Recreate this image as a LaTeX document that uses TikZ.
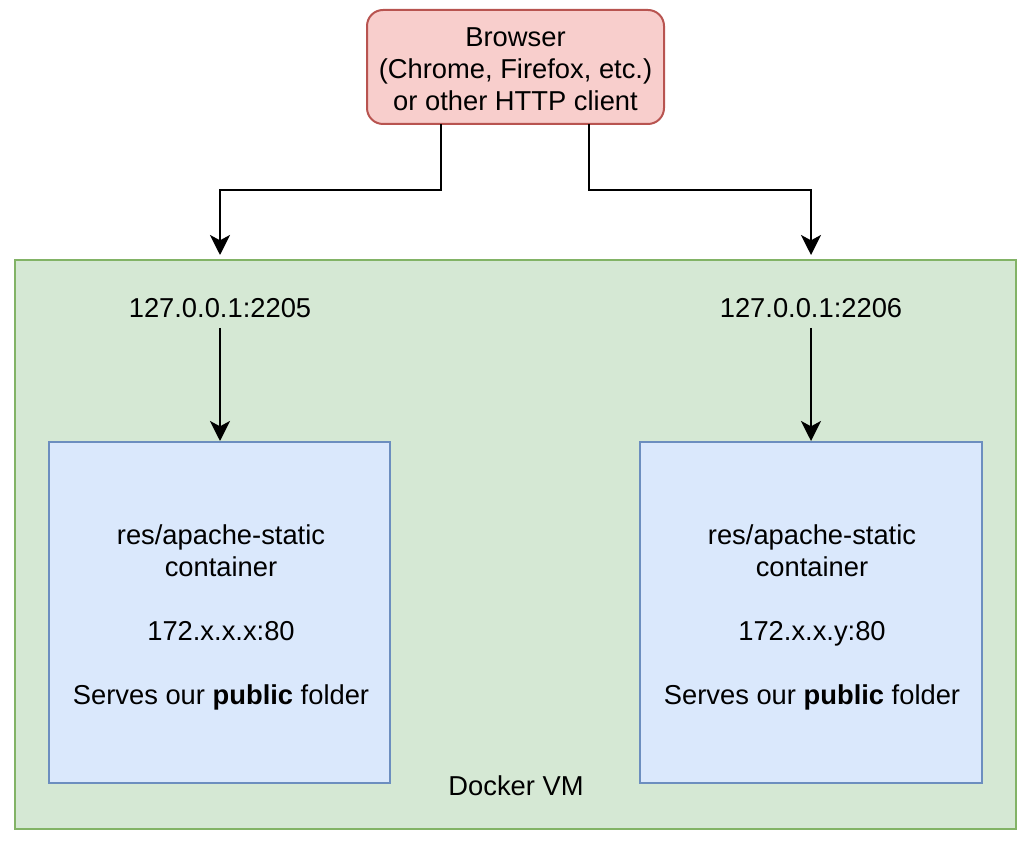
\documentclass[tikz,border=0pt]{standalone}
\usepackage{fontspec}
\setmainfont{Liberation Sans}
\usetikzlibrary{arrows.meta}
\definecolor{redfill}{HTML}{F8CECC}
\definecolor{redline}{HTML}{B85450}
\definecolor{greenfill}{HTML}{D5E8D4}
\definecolor{greenline}{HTML}{82B366}
\definecolor{bluefill}{HTML}{DAE8FC}
\definecolor{blueline}{HTML}{6C8EBF}
\begin{document}
\begin{tikzpicture}[x=0.75pt,y=-0.75pt,
  txt/.style={font=\fontsize{20.5pt}{24pt}\selectfont, align=center, inner sep=0pt},
  conn/.style={line width=1.5pt, -{Stealth[length=15pt,width=15pt,inset=4pt]}},
]
\useasboundingbox (0,0) rectangle (1032,841);
\draw[line width=1.5pt, draw=greenline, fill=greenfill] (15,260) rectangle (1016,829);
\node[txt] (vm) at (516,786) {Docker VM};
\draw[line width=1.5pt, draw=redline, fill=redfill, rounded corners=12pt] (367,10) rectangle (664,124);
\node[txt] (browser) at (515.5,69) {Browser\\(Chrome, Firefox, etc.)\\or other HTTP client};
\coordinate (bl) at (441,124);
\coordinate (br) at (589,124);
\coordinate (tl) at (220,255);
\coordinate (tr) at (811,255);
\draw[conn] (bl) -- (441,190) -| (tl);
\draw[conn] (br) -- (589,190) -| (tr);
\node[txt] (p1) at (220,308) {127.0.0.1:2205};
\node[txt] (p2) at (811,308) {127.0.0.1:2206};
\draw[line width=1.5pt, draw=blueline, fill=bluefill] (49,442) rectangle (390,783);
\draw[line width=1.5pt, draw=blueline, fill=bluefill] (640,442) rectangle (982,783);
\coordinate (c1) at (220,441);
\coordinate (c2) at (811,441);
\draw[conn] (220,328) -- (c1);
\draw[conn] (811,328) -- (c2);
\node[txt] (t1) at (221,617) {res/apache-static\\container\\[24pt]172.x.x.x:80\\[24pt]Serves our \textbf{public} folder};
\node[txt] (t2) at (812,617) {res/apache-static\\container\\[24pt]172.x.x.y:80\\[24pt]Serves our \textbf{public} folder};
\end{tikzpicture}
\end{document}
